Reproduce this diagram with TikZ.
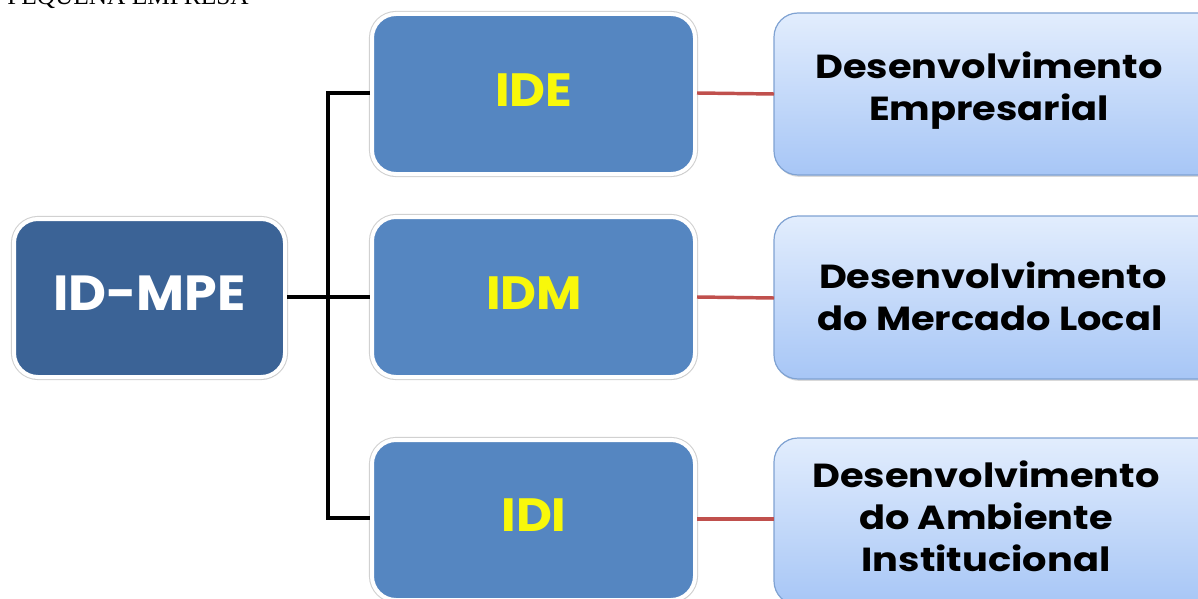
\documentclass[tikz,border=0pt]{standalone}
\usepackage{fontspec}
\setmainfont{Liberation Serif}
\newfontfamily\geo{Poppins}[FakeStretch=1.15]
\newfontfamily\geoplain{Poppins}[FakeStretch=1.06]
\usetikzlibrary{shadows}
\definecolor{rootblue}{HTML}{3B6396}
\definecolor{midblue}{HTML}{5586C1}
\definecolor{lighttop}{HTML}{E2EDFD}
\definecolor{lightbot}{HTML}{A7C6F6}
\definecolor{lightedge}{HTML}{7FA2D2}
\definecolor{linkred}{HTML}{C0504D}
\definecolor{labelyellow}{HTML}{F8F80A}
\tikzset{
  ringshadow/.style={preaction={draw=black!18, line width=4.6pt}},
  darkbox/.style={ringshadow, draw=white, line width=3pt, fill=rootblue, rounded corners=18pt,
    drop shadow={shadow xshift=0.8pt, shadow yshift=-1.4pt, opacity=0.3}},
  midbox/.style={ringshadow, draw=white, line width=3pt, fill=midblue, rounded corners=18pt,
    drop shadow={shadow xshift=0.8pt, shadow yshift=-1.4pt, opacity=0.3}},
  lightbox/.style={draw=lightedge, line width=0.9pt, top color=lighttop, bottom color=lightbot,
    rounded corners=18pt,
    drop shadow={shadow xshift=0.8pt, shadow yshift=-1.4pt, opacity=0.3}},
  treeline/.style={line width=3pt, black},
  redline/.style={line width=2.6pt, linkred},
  midlabel/.style={text=labelyellow, font=\geoplain\bfseries\fontsize{35}{40}\selectfont},
  rootlabel/.style={text=white, font=\geoplain\bfseries\fontsize{37}{44}\selectfont},
  desclabel/.style={text=black, align=center, font=\geo\bfseries\fontsize{25}{31.5}\selectfont}
}
\begin{document}
\begin{tikzpicture}[x=0.75pt, y=-0.75pt]
\useasboundingbox (0,0) rectangle (1198,599);
% heading, cut by the top edge
\node[anchor=base west, inner sep=0pt, font=\fontsize{19}{22}\selectfont] (head) at (7,5) {PEQUENA EMPRESA};

% root
\path[darkbox] (14,219) rectangle (285,377);
\node[rootlabel] (root) at (149.5,293) {ID-MPE};
\coordinate (rootR) at (287,297);

% middle boxes
\path[midbox] (372,14) rectangle (695,174);
\path[midbox] (372,217) rectangle (695,377);
\path[midbox] (372,440) rectangle (695,600);
\node[midlabel] (ide) at (534,90) {IDE};
\node[midlabel] (idm) at (534,293) {IDM};
\node[midlabel] (idi) at (534,515) {IDI};
\coordinate (ideL) at (370,93);
\coordinate (idmL) at (370,297);
\coordinate (idiL) at (370,518);
\coordinate (ideR) at (697,93);
\coordinate (idmR) at (697,297);
\coordinate (idiR) at (697,519);

% right boxes, running past the right edge
\path[lightbox] (774,13) rectangle (1225,175);
\path[lightbox] (774,216) rectangle (1225,379);
\path[lightbox] (774,438) rectangle (1225,605);
\node[desclabel] (d1) at (989,91) {Desenvolvimento\\Empresarial};
\node[desclabel] (d2) at (990,296) {\,Desenvolvimento\\do Mercado Local};
\node[desclabel] (d3) at (986,516) {Desenvolvimento\\do Ambiente\\Institucional};
\coordinate (d1L) at (774,94);
\coordinate (d2L) at (774,298);
\coordinate (d3L) at (774,519);

% tree connectors
\coordinate (trunkTop) at (328,93);
\coordinate (trunkBot) at (328,518);
\draw[treeline] (rootR) -- (idmL);
\draw[treeline] (ideL) -- (trunkTop) -- (trunkBot) -- (idiL);

% red links
\draw[redline] (ideR) -- (d1L);
\draw[redline] (idmR) -- (d2L);
\draw[redline] (idiR) -- (d3L);
\end{tikzpicture}
\end{document}
